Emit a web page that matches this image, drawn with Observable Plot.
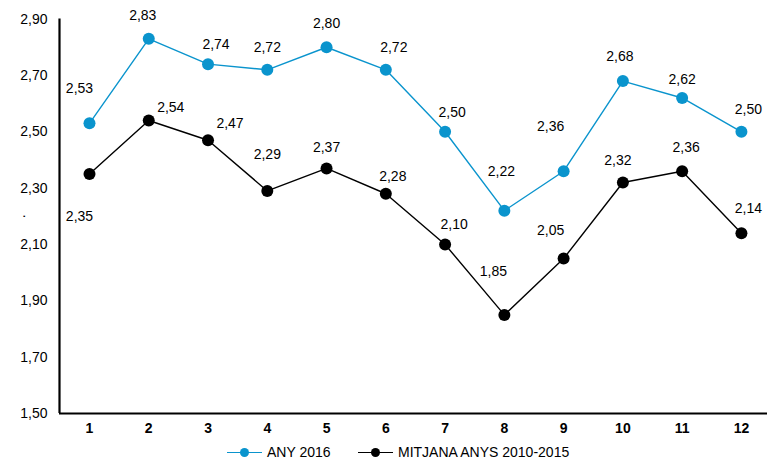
<!DOCTYPE html>
<html>
<head>
<meta charset="utf-8">
<script src="https://cdn.jsdelivr.net/npm/d3@7"></script>
<script src="https://cdn.jsdelivr.net/npm/@observablehq/plot@0.6"></script>
<style>
  html, body { margin: 0; padding: 0; background: #fff; }
  body { width: 767px; height: 467px; overflow: hidden; font-family: "Liberation Sans", Arial, sans-serif; }
  #legend { position: relative; height: 27px; width: 767px; font-size: 14px; color: #000; }
  .item { position: absolute; top: 4px; display: flex; align-items: center; white-space: nowrap; }
  .sw { position: relative; width: 35px; height: 14px; margin-right: 5px; }
  .sw .ln { position: absolute; left: 0; right: 0; top: 6.5px; height: 1.4px; }
  .sw .dt { position: absolute; left: 12.5px; top: 2.5px; width: 9px; height: 9px; border-radius: 50%; }
</style>
</head>
<body>
<div id="chart"></div>
<div id="legend"></div>
<script>
const months = [1, 2, 3, 4, 5, 6, 7, 8, 9, 10, 11, 12];
const any2016 = [2.53, 2.83, 2.74, 2.72, 2.80, 2.72, 2.50, 2.22, 2.36, 2.68, 2.62, 2.50];
const mitjana = [2.35, 2.54, 2.47, 2.29, 2.37, 2.28, 2.10, 1.85, 2.05, 2.32, 2.36, 2.14];
const seriesNames = ["ANY 2016", "MITJANA ANYS 2010-2015"];
const yTicks = [1.5, 1.7, 1.9, 2.1, 2.3, 2.5, 2.7, 2.9];

// label nudges in pixels (relative to each point), as in the original layout
const blueNudge = [[-10,-35],[-6,-23],[8,-20],[0,-22],[0,-24],[8,-22],[7,-19],[-3,-39],[-13,-45],[-3,-25],[0,-18],[7,-22]];
const blackNudge = [[-10,42],[22,-13],[22,-17],[0,-36],[0,-21],[7,-17],[9,-20],[-11,-43],[-13,-28],[-5,-22],[4,-24],[7,-25]];

const BLUE = "#0a94cd";
const BLACK = "#000000";
const fmt = v => v.toFixed(2).replace(".", ",");

const blue = months.map((m, i) => ({m, v: any2016[i], s: seriesNames[0]}));
const black = months.map((m, i) => ({m, v: mitjana[i], s: seriesNames[1]}));

const labelMarks = (data, nudges) => data.map((d, i) =>
  Plot.text([d], {x: "m", y: "v", text: d => fmt(d.v), dx: nudges[i][0], dy: nudges[i][1],
    fontSize: 14, fill: "#000"}));

const chart = Plot.plot({
  width: 767,
  height: 440,
  marginLeft: 59,
  marginRight: 0,
  marginTop: 18.6,
  marginBottom: 27,
  style: {fontFamily: "Liberation Sans, Arial, sans-serif", fontSize: "14px", color: "#000", background: "#fff"},
  x: {domain: [0.494, 12.44], axis: null},
  y: {domain: [1.5, 2.9], axis: null},
  marks: [
    Plot.axisY(yTicks, {tickSize: 0, tickPadding: 12, tickFormat: fmt, fontSize: 14,
      label: ".", labelAnchor: "center", labelOffset: 44, labelArrow: "none"}),
    Plot.axisX(months, {tickSize: 0, tickPadding: 10, fontSize: 14, fontWeight: "bold", label: null}),
    Plot.ruleX([0.494], {stroke: "#000", strokeWidth: 2.2}),
    Plot.ruleY([1.5], {stroke: "#000", strokeWidth: 2.2}),
    Plot.line(blue, {x: "m", y: "v", stroke: BLUE, strokeWidth: 1.4}),
    Plot.dot(blue, {x: "m", y: "v", r: 6, fill: BLUE, stroke: "none"}),
    Plot.line(black, {x: "m", y: "v", stroke: BLACK, strokeWidth: 1.4}),
    Plot.dot(black, {x: "m", y: "v", r: 6, fill: BLACK, stroke: "none"}),
    ...labelMarks(blue, blueNudge),
    ...labelMarks(black, blackNudge)
  ]
});
document.getElementById("chart").appendChild(chart);

const legend = document.getElementById("legend");
const colors = [BLUE, BLACK];
const lefts = [227, 358];
seriesNames.forEach((name, i) => {
  const it = document.createElement("div");
  it.className = "item";
  it.style.left = lefts[i] + "px";
  it.innerHTML = `<span class="sw"><span class="ln" style="background:${colors[i]}"></span><span class="dt" style="background:${colors[i]}"></span></span><span>${name}</span>`;
  legend.appendChild(it);
});
</script>
</body>
</html>
